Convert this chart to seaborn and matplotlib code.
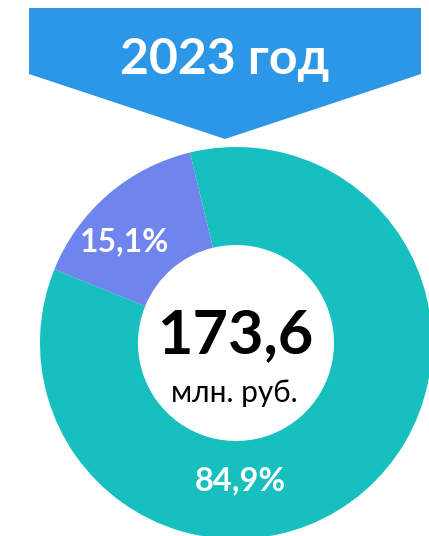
import matplotlib
matplotlib.use('Agg')
import matplotlib.pyplot as plt
import seaborn as sns
from matplotlib.patches import Polygon

# data
year_label = '2023 год'
total = '173,6'
unit = 'млн. руб.'
segments = ['other', 'main']
shares = [15.1, 84.9]
colors = ['#6F84EC', '#17BFBF']

sns.set_theme(style='white')
plt.rcParams['font.family'] = ['Lato', 'DejaVu Sans']

W, H = 429, 536
fig = plt.figure(figsize=(W / 100, H / 100), dpi=100)
ax = fig.add_axes([0, 0, 1, 1])

# donut (pixel coords, y up)
cx, cy, r = 236, H - 343, 196
ax.pie(shares, colors=colors, startangle=103.6, counterclock=True,
       center=(cx, cy), radius=r,
       wedgeprops=dict(width=98, edgecolor='none', linewidth=0))

# banner arrow
banner = Polygon([(29, H - 8), (421, H - 8), (421, H - 74), (225, H - 139), (29, H - 74)],
                 closed=True, facecolor='#2C97E6', edgecolor='none')
ax.add_patch(banner)
ax.text(225, H - 59, year_label, color='white', fontsize=36, fontweight='bold',
        ha='center', va='center')

# center text
ax.text(cx - 1, H - 335, total, color='black', fontsize=44, fontweight='bold',
        ha='center', va='center')
ax.text(cx - 2, H - 393, unit, color='black', fontsize=21.5, ha='center', va='center')

# percent labels
ax.text(125, H - 242, f'{shares[0]:.1f}%'.replace('.', ','), color='white',
        fontsize=23, fontweight='bold', ha='center', va='center')
ax.text(240, H - 481, f'{shares[1]:.1f}%'.replace('.', ','), color='white',
        fontsize=23.5, fontweight='bold', ha='center', va='center')

ax.set_xlim(0, W)
ax.set_ylim(0, H)
ax.set_aspect('auto')
ax.axis('off')

fig.savefig('out.png', dpi=100)
